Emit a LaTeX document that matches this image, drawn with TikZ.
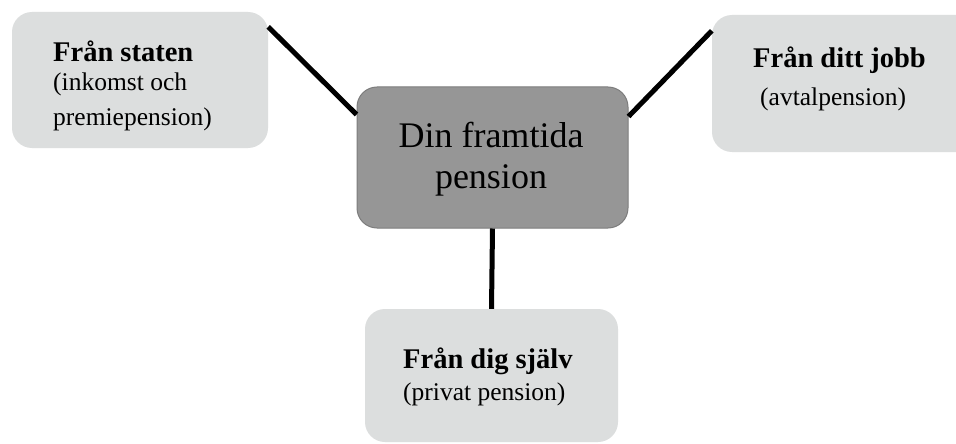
\documentclass[tikz,border=0pt]{standalone}
\usepackage{fontspec}
\setmainfont{Liberation Serif}
\definecolor{boxlight}{RGB}{220,222,222}
\definecolor{boxdark}{RGB}{150,150,150}
\definecolor{boxdarkline}{RGB}{125,125,125}
\begin{document}
\begin{tikzpicture}[x=1pt,y=-1pt,
  lightbox/.style={fill=boxlight, rounded corners=20pt, inner sep=0pt, draw=none},
  darkbox/.style={fill=boxdark, draw=boxdarkline, line width=1pt, rounded corners=20pt, inner sep=0pt},
  link/.style={line width=5pt, black},
  titletext/.style={font=\fontsize{28.5}{34}\selectfont\bfseries, inner sep=0pt, anchor=base west},
  subtext/.style={font=\fontsize{25.5}{34}\selectfont, inner sep=0pt, anchor=base west},
  centertext/.style={font=\fontsize{36}{41}\selectfont, inner sep=0pt, anchor=base}]
\useasboundingbox (0,0) rectangle (956,444);
\fill[white] (0,0) rectangle (956,444);
% boxes
\node[lightbox, minimum width=256pt, minimum height=136pt] (left) at (140,80) {};
\node[lightbox, minimum width=264pt, minimum height=137pt] (right) at (844,83.5) {};
\node[lightbox, minimum width=253pt, minimum height=133pt] (bottom) at (491.5,375.5) {};
\node[darkbox, minimum width=271pt, minimum height=141pt] (center) at (492.5,157.5) {};
% connectors
\draw[link] ([yshift=-15pt]left.north east) -- ([yshift=-28pt]center.north west);
\draw[link] ([yshift=-30pt]center.north east) -- ([yshift=-16pt]right.north west);
\draw[link] (center.south) -- (bottom.north);
% texts
\node[titletext] (lefttitle) at (53,62) {Från staten};
\node[subtext] (leftsub1) at (53,90) {(inkomst och};
\node[subtext] (leftsub2) at (53,125) {premiepension)};
\node[titletext] (righttitle) at (753,68) {Från ditt jobb};
\node[subtext] (rightsub) at (760,105) {(avtalpension)};
\node[titletext] (bottomtitle) at (403,368) {Från dig själv};
\node[subtext] (bottomsub) at (403,400) {(privat pension)};
\node[centertext] (centertitle1) at (491,147) {Din framtida};
\node[centertext] (centertitle2) at (491,188) {pension};
\end{tikzpicture}
\end{document}
